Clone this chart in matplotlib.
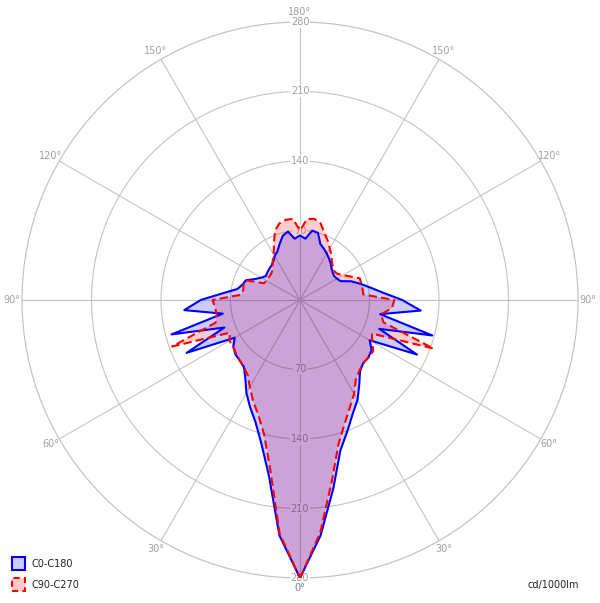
import numpy as np
import matplotlib
matplotlib.use("Agg")
import matplotlib.pyplot as plt
from matplotlib.patches import Rectangle

# gamma angles (deg), 0 = nadir (bottom), 180 = zenith (top)
gamma = list(range(0, 181, 5))

# C0-C180 plane (blue): right half = C0, left half = C180
c0 = [280, 238, 193, 157, 140, 126, 116, 104, 94, 90, 90, 88, 81, 130, 85, 138, 82, 122,
      103, 84, 72, 63, 55, 45, 43, 42, 43, 45, 48, 51, 54, 57, 60, 70, 71, 62, 65]
c180 = [280, 238, 180, 150, 131, 119, 108, 96, 88, 86, 85, 82, 76, 126, 81, 134, 79, 117,
        100, 78, 64, 60, 58, 50, 45, 42, 43, 44, 45, 47, 51, 54, 60, 67, 70, 62, 65]
# C90-C270 plane (red): right half = C90, left half = C270
c90 = [280, 235, 185, 150, 132, 119, 109, 98, 93, 90, 90, 90, 84, 80, 143, 87, 83, 93,
       95, 64, 64, 64, 64, 56, 50, 46, 45, 47, 50, 55, 60, 66, 72, 80, 83, 82, 70]
c270 = [280, 236, 173, 140, 123, 112, 101, 92, 88, 86, 84, 82, 82, 78, 137, 88, 85, 86,
        88, 60, 58, 59, 58, 40, 39, 39, 39, 40, 43, 48, 53, 62, 74, 80, 82, 82, 70]

series_labels = ["C0-C180", "C90-C270"]
radial_ticks = [70, 140, 210, 280]
angle_labels = [0, 30, 60, 90, 120, 150, 180]
unit_label = "cd/1000lm"

W, H = 600, 603
fig = plt.figure(figsize=(W / 100, H / 100), dpi=100)
fig.patch.set_facecolor("white")

cx, cy, R = 300, 300, 278
ax = fig.add_axes([(cx - R) / W, (H - cy - R) / H, 2 * R / W, 2 * R / H], projection="polar")
ax.set_theta_zero_location("S")
ax.set_theta_direction(1)
ax.set_ylim(0, 280)
ax.set_facecolor("none")

grid_col = "#c4c4c4"
ax.set_rgrids(radial_ticks[:-1], labels=[])
ax.set_thetagrids(np.arange(0, 360, 30), labels=[])
ax.grid(True, color=grid_col, lw=0.8)
ax.set_axisbelow(True)
ax.spines["polar"].set_color(grid_col)
ax.spines["polar"].set_linewidth(0.9)
ax.spines["polar"].set_zorder(1)
ax.tick_params(length=0, pad=0)


def full_curve(right, left):
    g = np.radians(np.array(gamma, dtype=float))
    th = np.concatenate([g, 2 * np.pi - g[::-1]])
    r = np.concatenate([np.array(right, float), np.array(left, float)[::-1]])
    return th, r


th_b, r_b = full_curve(c0, c180)
th_r, r_r = full_curve(c90, c270)

ax.fill(th_r, r_r, color=(1, 0, 0, 0.2), lw=0, zorder=2)
ax.fill(th_b, r_b, color=(0, 0, 1, 0.2), lw=0, zorder=2.1)
ax.plot(th_b, r_b, color="#0000ff", lw=1.5, zorder=3)
ax.plot(th_r, r_r, color="#ff0000", lw=1.5, ls=(0, (4, 2)), zorder=3.1)

lab_col = "#a0a0a0"
fs = 7
bbox = dict(facecolor="white", edgecolor="none", pad=0.6)
for rv in radial_ticks:
    ax.text(0, rv, str(rv), ha="center", va="center", fontsize=fs, color=lab_col,
            bbox=bbox, zorder=1.5)
    ax.text(np.pi, rv, str(rv), ha="center", va="center", fontsize=fs, color=lab_col,
            bbox=bbox, zorder=1.5)

for a in angle_labels:
    for t in ({a, 360 - a}):
        ax.text(np.radians(t), 290, f"{a}°", ha="center", va="center", fontsize=fs,
                color=lab_col, clip_on=False)

# legend
def fx(x):
    return x / W


def fy(y):
    return (H - y) / H


sq = 13
fig.add_artist(Rectangle((fx(12), fy(570)), sq / W, sq / H, transform=fig.transFigure,
                         facecolor=(0, 0, 1, 0.2), edgecolor="#0000ff", lw=1.5))
fig.add_artist(Rectangle((fx(12), fy(591)), sq / W, sq / H, transform=fig.transFigure,
                         facecolor=(1, 0, 0, 0.2), edgecolor="#ff0000", lw=1.5,
                         ls=(0, (3, 2))))
fig.text(fx(31), fy(564), series_labels[0], ha="left", va="center", fontsize=fs, color="#222222")
fig.text(fx(31), fy(585), series_labels[1], ha="left", va="center", fontsize=fs, color="#222222")
fig.text(fx(579), fy(585), unit_label, ha="right", va="center", fontsize=fs, color="#222222")

fig.savefig("out.png", dpi=100, facecolor="white")
